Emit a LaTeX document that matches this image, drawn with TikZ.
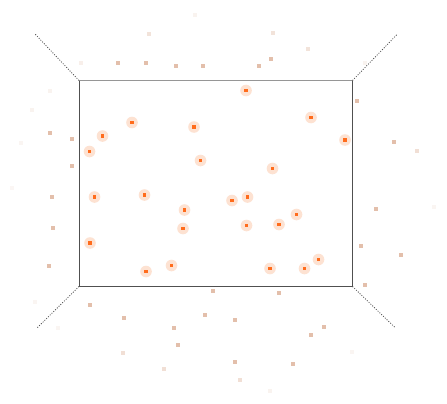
\documentclass[tikz,border=0pt]{standalone}
\usepackage{tikz}
\definecolor{PtOrange}{RGB}{255,108,28}
\definecolor{PtHalo}{RGB}{253,226,210}
\definecolor{PtFaint}{RGB}{220,176,150}
\definecolor{FrameDark}{RGB}{80,80,80}
\definecolor{FrameLight}{RGB}{150,150,150}
\tikzset{
  inpoint/.style={fill=PtOrange},
  inhalo/.style={fill=PtHalo},
  outpoint/.style={fill=PtFaint},
  viewray/.style={FrameDark, line width=0.8pt, dash pattern=on 1pt off 1.5pt},
}

\begin{document}
\begin{tikzpicture}[x=1pt,y=-1pt]
  \path[use as bounding box] (0,0) rectangle (447,404);
  \fill[white] (0,0) rectangle (447,404);

  % window corners and the ends of the rays
  \coordinate (tl) at (79,80.5);
  \coordinate (tr) at (352.5,80.5);
  \coordinate (bl) at (79,286.5);
  \coordinate (br) at (352.5,286.5);
  \coordinate (tlray) at (35,34);
  \coordinate (trray) at (397.5,34);
  \coordinate (blray) at (37,328);
  \coordinate (brray) at (395.5,328);

  % points outside the window: x, y, opacity
  \foreach \x/\y/\o in {
      195/15/0.15, 149/34/0.35, 81/63/0.2, 118/63/0.8, 146/63/0.8, 176/66/0.8,
      203/66/0.8, 50/91/0.15, 32/110/0.15, 50/133/0.8, 72/139/0.8, 21/143/0.12,
      72/166/0.8, 12/188/0.1, 52/197/0.8, 53/228/0.8, 49/266/0.8,
      273/33/0.35, 308/49/0.35, 271/59/0.8, 259/66/0.8, 365/63/0.15, 357/101/0.8,
      394/142/0.8, 417/151/0.4, 376/209/0.8, 434/207/0.12, 361/246/0.8, 401/255/0.8,
      35/302/0.12, 90/305/0.8, 124/318/0.8, 58/328/0.12, 213/291/0.8, 205/315/0.8,
      174/328/0.8, 178/345/0.8, 123/353/0.4, 164/369/0.4,
      365/285/0.8, 279/293/0.8, 235/320/0.8, 324/327/0.8, 311/335/0.8,
      352/352/0.12, 235/362/0.8, 293/364/0.8, 240/380/0.4, 270/391/0.15}
    \fill[outpoint, opacity=\o] (\x-1.8,\y-1.8) rectangle (\x+1.8,\y+1.8);

  % window frame
  \draw[FrameDark, line width=1pt] (tr) -- (br) -- (bl) -- (tl);
  \draw[FrameLight, line width=1pt] (tl) -- (tr);

  % rays from the corners
  \draw[viewray] (tl) -- (tlray);
  \draw[viewray] (tr) -- (trray);
  \draw[viewray] (bl) -- (blray);
  \draw[viewray] (br) -- (brray);

  % points inside the window
  \foreach \x/\y in {
      246/90.5, 311/117.5, 132/122.5, 194/127, 102.5/136, 345/140, 89.5/151.5,
      200.5/160.5, 272.5/168.5, 94.5/197, 144.5/195, 247.5/197, 232/200.5,
      184.5/210, 296.5/214.5, 183/228.5, 246.5/225.5, 279/224.5, 90/243,
      318.5/259.5, 171.5/265.5, 146/271.5, 270/268.5, 304.5/268.5} {
    \fill[inhalo] (\x,\y) circle (5.8);
    \fill[inpoint] (\x-1.9,\y-1.9) rectangle (\x+1.9,\y+1.9);
  }
\end{tikzpicture}
\end{document}
